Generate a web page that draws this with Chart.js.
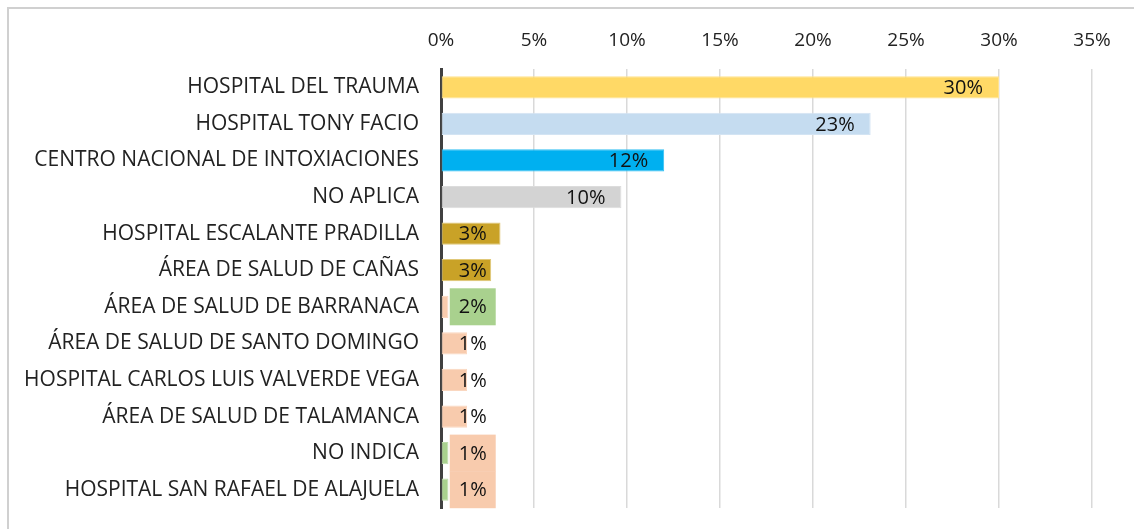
<!DOCTYPE html>
<html>
<head>
<meta charset="utf-8">
<script src="https://cdn.jsdelivr.net/npm/chart.js@4.4.1/dist/chart.umd.min.js"></script>
<style>
  html, body { margin: 0; padding: 0; background: #fff; }
  #wrap { width: 1134px; height: 529px; position: relative; }
</style>
</head>
<body>
<div id="wrap"><canvas id="c" width="1134" height="529"></canvas></div>
<script>
const categories = [
  'HOSPITAL DEL TRAUMA',
  'HOSPITAL TONY FACIO',
  'CENTRO NACIONAL DE INTOXIACIONES',
  'NO APLICA',
  'HOSPITAL ESCALANTE PRADILLA',
  'ÁREA DE SALUD DE CAÑAS',
  'ÁREA DE SALUD DE BARRANACA',
  'ÁREA DE SALUD DE SANTO DOMINGO',
  'HOSPITAL CARLOS LUIS VALVERDE VEGA',
  'ÁREA DE SALUD DE TALAMANCA',
  'NO INDICA',
  'HOSPITAL SAN RAFAEL DE ALAJUELA'
];
const values = [30.0, 23.1, 12.0, 9.7, 3.2, 2.7, 0.4, 1.4, 1.4, 1.4, 0.4, 0.4];
const valueLabels = ['30%', '23%', '12%', '10%', '3%', '3%', '2%', '1%', '1%', '1%', '1%', '1%'];
const tickValues = [0, 5, 10, 15, 20, 25, 30, 35];

const barColors = ['#FFD966', '#C5DCF0', '#00B0F0', '#D3D3D3', '#C9A227', '#C9A227',
                   '#F8CBAD', '#F8CBAD', '#F8CBAD', '#F8CBAD', '#A9D18E', '#A9D18E'];
const barBorders = ['#FFE38F', '#D3E4F3', '#33C0F3', '#DCDCDC', '#E0C878', '#E0C878',
                    '#FAD7C0', '#FAD7C0', '#FAD7C0', '#FAD7C0', '#BEDCAA', '#BEDCAA'];
const labelBg = [null, null, null, null, null, null,
                 '#A9D18E', null, null, null, '#F8CBAD', '#F8CBAD'];

const FONT = "'Open Sans', 'Noto Sans', sans-serif";

const framePlugin = {
  id: 'frame',
  beforeDraw(chart) {
    const ctx = chart.ctx;
    ctx.save();
    ctx.fillStyle = '#fff';
    ctx.fillRect(0, 0, chart.width, chart.height);
    ctx.strokeStyle = '#D0D0D0';
    ctx.lineWidth = 2;
    ctx.strokeRect(8, 8, 1300, 700);
    ctx.restore();
  }
};

const labelPlugin = {
  id: 'valLabels',
  afterDatasetsDraw(chart) {
    const ctx = chart.ctx;
    const meta = chart.getDatasetMeta(0);
    ctx.save();
    ctx.font = '20px ' + FONT;
    ctx.textBaseline = 'middle';
    ctx.textAlign = 'center';
    meta.data.forEach((el, i) => {
      const txt = valueLabels[i];
      const w = ctx.measureText(txt).width;
      const bw = w + 18;
      let right = el.x - 7;
      let left = right - bw;
      if (left < el.base + 8) left = el.base + 8;
      if (labelBg[i]) {
        ctx.fillStyle = labelBg[i];
        ctx.fillRect(left, el.y - 18.5, bw, 37);
      }
      ctx.fillStyle = '#111';
      ctx.fillText(txt, left + bw / 2, el.y + 1);
    });
    ctx.restore();
  }
};

new Chart(document.getElementById('c'), {
  type: 'bar',
  data: {
    labels: categories,
    datasets: [{
      data: values,
      backgroundColor: barColors,
      borderColor: barBorders,
      borderWidth: 1,
      borderSkipped: false,
      barPercentage: 0.61,
      categoryPercentage: 1.0
    }]
  },
  plugins: [framePlugin, labelPlugin],
  options: {
    indexAxis: 'y',
    responsive: false,
    animation: false,
    events: [],
    layout: { padding: { left: 0, right: 42, top: 0, bottom: 21 } },
    plugins: { legend: { display: false }, tooltip: { enabled: false } },
    scales: {
      x: {
        position: 'top',
        min: 0, max: 35,
        afterBuildTicks(scale) { scale.ticks = tickValues.map(v => ({ value: v })); },
        afterFit(scale) { scale.height = 69; },
        grid: { color: '#D9D9D9', lineWidth: 1.5, drawTicks: false },
        border: { display: false },
        ticks: {
          padding: 17,
          color: '#222',
          font: { family: FONT, size: 19 },
          callback: v => v + '%'
        }
      },
      y: {
        afterFit(scale) { scale.width = 441; },
        grid: { display: true, drawOnChartArea: false, drawTicks: true, tickLength: 22,
                color: 'rgba(0,0,0,0)', tickColor: 'rgba(0,0,0,0)' },
        border: { display: true, color: '#404040', width: 3 },
        ticks: {
          padding: 0,
          color: '#222',
          font: { family: FONT, size: 21 }
        }
      }
    }
  }
});
</script>
</body>
</html>
